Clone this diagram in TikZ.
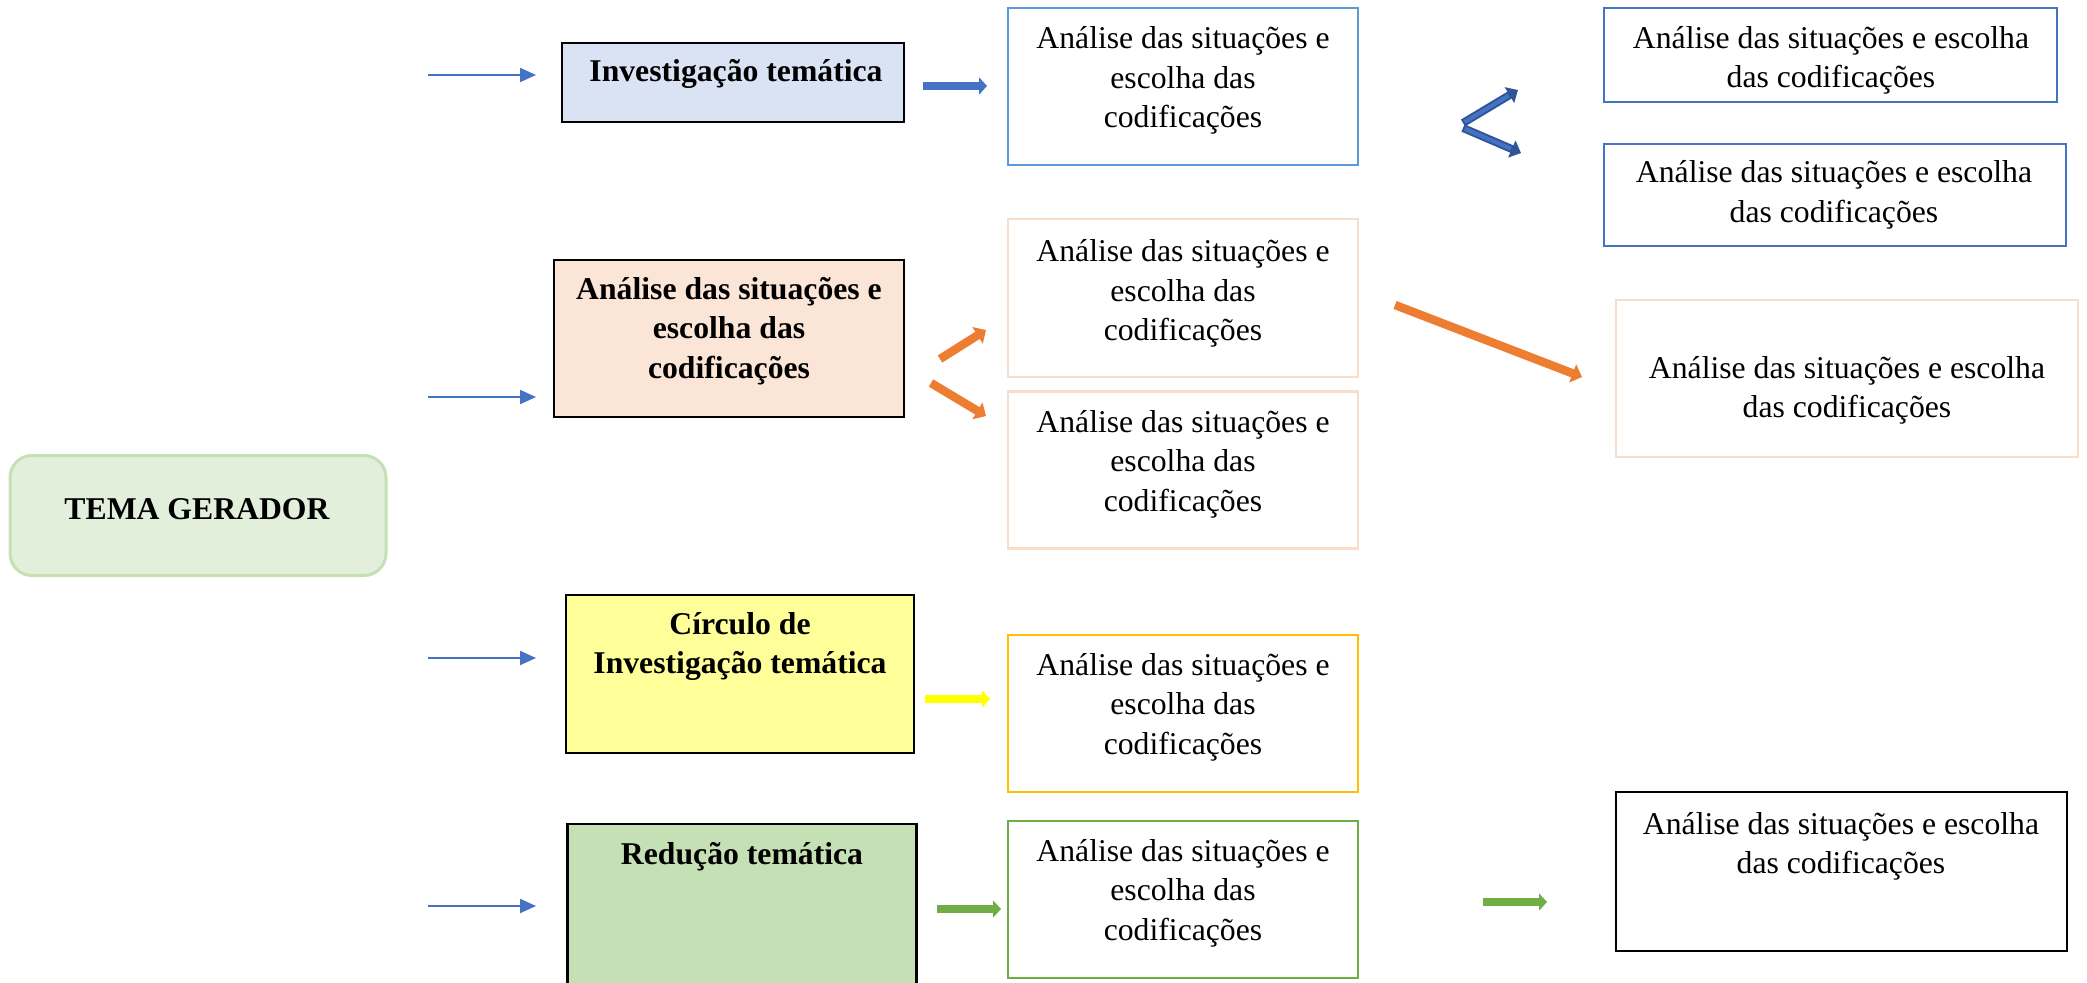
\documentclass[tikz,border=0pt]{standalone}
\usepackage{fontspec}
\setmainfont{Liberation Serif}
\usetikzlibrary{arrows.meta}
\definecolor{temafill}{HTML}{E2EFDA}
\definecolor{temadraw}{HTML}{C5E0B4}
\definecolor{invfill}{HTML}{DAE3F3}
\definecolor{anafill}{HTML}{FBE5D6}
\definecolor{cirfill}{HTML}{FFFF99}
\definecolor{redfill}{HTML}{C5E0B4}
\definecolor{lblue}{HTML}{5B9BD5}
\definecolor{mblue}{HTML}{4472C4}
\definecolor{dblue}{HTML}{2F5597}
\definecolor{peach}{HTML}{F9DDCB}
\definecolor{gold}{HTML}{FFC000}
\definecolor{ygreen}{HTML}{70AD47}
\definecolor{orng}{HTML}{ED7D31}
\definecolor{yel}{HTML}{FFFF00}
\begin{document}
\begin{tikzpicture}[x=1pt,y=-1pt,
  box/.style={draw, line width=2.5pt, inner sep=0, outer sep=0},
  txt/.style={inner sep=0, anchor=north, align=center, font=\fontsize{31.7}{39.5}\selectfont},
  btxt/.style={txt, font=\fontsize{31.7}{39.5}\selectfont\bfseries},
  inarrow/.style={draw=mblue, line width=2pt, -{Triangle[length=16pt,width=14pt]}},
  fatarrow/.style={line width=8pt, -{Triangle[length=8pt,width=17pt]}},
  orarrow/.style={draw=orng, line width=8.5pt, -{Triangle[length=10pt,width=19pt]}}
]
\useasboundingbox (0,0) rectangle (2087,982);
\clip (0,0) rectangle (2087,982);

% left central node
\node[box, draw=temadraw, line width=3pt, fill=temafill, rounded corners=22pt,
      minimum width=376pt, minimum height=120pt] (tema) at (198,515.5) {};
\node[btxt, anchor=center] (tematxt) at (197,509) {TEMA GERADOR};

% left column
\node[box, fill=invfill, minimum width=342pt, minimum height=79pt] (inv) at (733,82.5) {};
\node[btxt] (invtxt) at (736,59) {Investigação temática};

\node[box, fill=anafill, minimum width=350pt, minimum height=157pt] (ana) at (729,338.5) {};
\node[btxt] (anatxt) at (729,277) {Análise das situações e\\escolha das\\codificações};

\node[box, fill=cirfill, minimum width=348pt, minimum height=158pt] (cir) at (740,674) {};
\node[btxt] (cirtxt) at (740,612) {Círculo de\\Investigação temática};

\node[box, fill=redfill, minimum width=349pt, minimum height=190pt] (red) at (742,919) {};
\node[btxt] (redtxt) at (742,842) {Redução temática};

% middle column
\node[box, draw=lblue, minimum width=350pt, minimum height=157pt] (m1) at (1183,86.5) {};
\node[txt] (m1t) at (1183,26.5) {Análise das situações e\\escolha das\\codificações};
\node[box, draw=peach, minimum width=350pt, minimum height=158pt] (m2) at (1183,298) {};
\node[txt] (m2t) at (1183,239.5) {Análise das situações e\\escolha das\\codificações};
\node[box, draw=peach, minimum width=350pt, minimum height=157pt] (m3) at (1183,470) {};
\node[txt] (m3t) at (1183,410) {Análise das situações e\\escolha das\\codificações};
\node[box, draw=gold, minimum width=350pt, minimum height=157pt] (m4) at (1183,713.5) {};
\node[txt] (m4t) at (1183,653) {Análise das situações e\\escolha das\\codificações};
\node[box, draw=ygreen, minimum width=350pt, minimum height=157pt] (m5) at (1183,899.5) {};
\node[txt] (m5t) at (1183,839) {Análise das situações e\\escolha das\\codificações};

% right column
\node[box, draw=mblue, minimum width=453pt, minimum height=94pt] (r1) at (1830.5,55) {};
\node[txt] (r1t) at (1831,26) {Análise das situações e escolha\\das codificações};
\node[box, draw=mblue, minimum width=462pt, minimum height=102pt] (r2) at (1835,195) {};
\node[txt] (r2t) at (1834,160.5) {Análise das situações e escolha\\das codificações};
\node[box, draw=peach, minimum width=462pt, minimum height=157pt] (r3) at (1847,378.5) {};
\node[txt] (r3t) at (1847,356) {Análise das situações e escolha\\das codificações};
\node[box, draw=black, minimum width=451pt, minimum height=159pt] (r4) at (1841.5,871.5) {};
\node[txt] (r4t) at (1841,812) {Análise das situações e escolha\\das codificações};

% input arrows (coordinates)
\coordinate (i1s) at (428,75);  \coordinate (i1e) at (536,75);
\coordinate (i2s) at (428,397); \coordinate (i2e) at (536,397);
\coordinate (i3s) at (428,658); \coordinate (i3e) at (536,658);
\coordinate (i4s) at (428,906); \coordinate (i4e) at (536,906);
\draw[inarrow] (i1s) -- (i1e);
\draw[inarrow] (i2s) -- (i2e);
\draw[inarrow] (i3s) -- (i3e);
\draw[inarrow] (i4s) -- (i4e);

% coloured arrows
\coordinate (b1s) at (923,86);   \coordinate (b1e) at (987,86);
\draw[fatarrow, draw=mblue] (b1s) -- (b1e);

\coordinate (cv1) at (1463,123);
\coordinate (cv2) at (1463,128);
\coordinate (cu) at (1518,90);
\coordinate (cd) at (1521,153);
\draw[line width=8pt, draw=dblue, -{Triangle[length=10pt,width=18pt]}] (cv1) -- (cu);
\draw[line width=8pt, draw=dblue, -{Triangle[length=10pt,width=18pt]}] (cv2) -- (cd);
\draw[line width=4pt, draw=mblue, shorten >=11pt, shorten <=2pt] (cv1) -- (cu);
\draw[line width=4pt, draw=mblue, shorten >=11pt, shorten <=2pt] (cv2) -- (cd);

\coordinate (o1s) at (940,359); \coordinate (o1e) at (986,330);
\coordinate (o2s) at (931,383); \coordinate (o2e) at (986,416);
\coordinate (o3s) at (1395,305); \coordinate (o3e) at (1582,377);
\draw[orarrow] (o1s) -- (o1e);
\draw[orarrow] (o2s) -- (o2e);
\draw[orarrow] (o3s) -- (o3e);

\coordinate (y1s) at (925,699); \coordinate (y1e) at (990,699);
\draw[fatarrow, draw=yel] (y1s) -- (y1e);

\coordinate (g1s) at (937,909); \coordinate (g1e) at (1001,909);
\coordinate (g2s) at (1483,902); \coordinate (g2e) at (1547,902);
\draw[fatarrow, draw=ygreen] (g1s) -- (g1e);
\draw[fatarrow, draw=ygreen] (g2s) -- (g2e);
\end{tikzpicture}
\end{document}
